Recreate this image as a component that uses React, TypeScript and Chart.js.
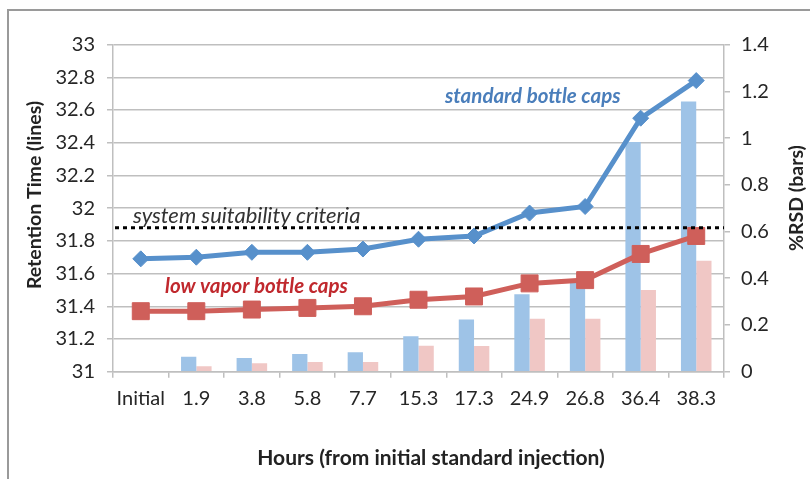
import React, { useEffect, useRef } from "react";
import { Chart, registerables } from "chart.js";

Chart.register(...registerables);

// ---- data ----
const categories = ["Initial", "1.9", "3.8", "5.8", "7.7", "15.3", "17.3", "24.9", "26.8", "36.4", "38.3"];
const standardRetention = [31.69, 31.7, 31.73, 31.73, 31.75, 31.81, 31.83, 31.97, 32.01, 32.55, 32.78];
const lowVaporRetention = [31.37, 31.37, 31.38, 31.39, 31.4, 31.44, 31.46, 31.54, 31.56, 31.72, 31.83];
const standardRsd = [null, 0.064, 0.059, 0.076, 0.083, 0.152, 0.223, 0.332, 0.39, 0.983, 1.156];
const lowVaporRsd = [null, 0.023, 0.036, 0.042, 0.042, 0.111, 0.11, 0.227, 0.227, 0.35, 0.475];
const suitabilityCriteria = 31.88;
const leftTicks = [31, 31.2, 31.4, 31.6, 31.8, 32, 32.2, 32.4, 32.6, 32.8, 33];
const leftTickLabels = ["31", "31.2", "31.4", "31.6", "31.8", "32", "32.2", "32.4", "32.6", "32.8", "33"];
const rightTicks = [0, 0.2, 0.4, 0.6, 0.8, 1, 1.2, 1.4];
const rightTickLabels = ["0", "0.2", "0.4", "0.6", "0.8", "1", "1.2", "1.4"];
const labelStandard = "standard bottle caps";
const labelLowVapor = "low vapor bottle caps";
const labelCriteria = "system suitability criteria";
const titleLeft = "Retention Time (lines)";
const titleRight = "%RSD (bars)";
const titleBottom = "Hours (from initial standard injection)";

const FONT = "Lato, 'Open Sans', sans-serif";
const GRID = "#BFBFBF";

const overlayPlugin = {
  id: "overlay",
  beforeDraw(chart: any) {
    const ctx = chart.ctx;
    ctx.save();
    ctx.strokeStyle = "#9A9A9A";
    ctx.lineWidth = 2;
    ctx.beginPath();
    ctx.moveTo(8, 2000);
    ctx.lineTo(8, 10);
    ctx.lineTo(2000, 10);
    ctx.stroke();
    ctx.restore();
  },
  afterDatasetsDraw(chart: any) {
    const { ctx, chartArea, scales } = chart;
    const yc = scales.y.getPixelForValue(suitabilityCriteria);
    ctx.save();
    ctx.setLineDash([4, 4]);
    ctx.lineWidth = 3;
    ctx.strokeStyle = "#000";
    ctx.beginPath();
    ctx.moveTo(chartArea.left + 2, yc);
    ctx.lineTo(chartArea.right, yc);
    ctx.stroke();
    ctx.setLineDash([]);

    ctx.textBaseline = "middle";
    ctx.textAlign = "left";
    ctx.fillStyle = "#333";
    ctx.font = `italic 22px ${FONT}`;
    ctx.fillText(labelCriteria, 133, 216);

    ctx.fillStyle = "#4A7EBB";
    ctx.font = `italic bold 20.5px ${FONT}`;
    ctx.fillText(labelStandard, 445, 96);

    ctx.fillStyle = "#C0282D";
    ctx.font = `italic bold 20.5px ${FONT}`;
    ctx.fillText(labelLowVapor, 165, 286);

    // axis titles
    ctx.fillStyle = "#222";
    ctx.font = `bold 21px ${FONT}`;
    ctx.textAlign = "center";
    ctx.fillText(titleBottom, 431, 458);

    ctx.font = `bold 19.5px ${FONT}`;
    ctx.save();
    ctx.translate(35, 195);
    ctx.rotate(-Math.PI / 2);
    ctx.fillText(titleLeft, 0, 0);
    ctx.restore();

    ctx.save();
    ctx.translate(797, 198);
    ctx.rotate(-Math.PI / 2);
    ctx.fillText(titleRight, 0, 0);
    ctx.restore();

    ctx.restore();
  },
};

export default function App() {
  const canvasRef = useRef<HTMLCanvasElement | null>(null);

  useEffect(() => {
    document.body.style.margin = "0";
    const canvas = canvasRef.current;
    if (!canvas) return;
    const chart = new Chart(canvas, {
      type: "bar",
      data: {
        labels: categories,
        datasets: [
          {
            type: "line",
            label: labelStandard,
            data: standardRetention,
            yAxisID: "y",
            borderColor: "#5790CB",
            backgroundColor: "#5790CB",
            borderWidth: 5,
            pointStyle: "rectRot",
            pointRadius: 8,
            pointBorderWidth: 1,
            pointBackgroundColor: "#5790CB",
            pointBorderColor: "#5790CB",
            tension: 0,
            order: 0,
          } as any,
          {
            type: "line",
            label: labelLowVapor,
            data: lowVaporRetention,
            yAxisID: "y",
            borderColor: "#CF5F5A",
            backgroundColor: "#CF5F5A",
            borderWidth: 5,
            pointStyle: "rect",
            pointRadius: 12,
            pointBorderWidth: 1,
            pointBackgroundColor: "#CF5F5A",
            pointBorderColor: "#CF5F5A",
            tension: 0,
            order: 0,
          } as any,
          {
            type: "bar",
            label: "standard %RSD",
            data: standardRsd,
            yAxisID: "y1",
            backgroundColor: "#9EC3E7",
            borderWidth: 0,
            categoryPercentage: 0.55,
            barPercentage: 1.0,
            order: 1,
          } as any,
          {
            type: "bar",
            label: "low vapor %RSD",
            data: lowVaporRsd,
            yAxisID: "y1",
            backgroundColor: "#F0C7C5",
            borderWidth: 0,
            categoryPercentage: 0.55,
            barPercentage: 1.0,
            order: 1,
          } as any,
        ],
      },
      options: {
        responsive: false,
        animation: false,
        layout: { padding: { top: 44.6, left: 0, right: 0, bottom: 0 } },
        plugins: { legend: { display: false }, tooltip: { enabled: false } },
        scales: {
          x: {
            type: "category",
            offset: true,
            grid: { offset: true, drawOnChartArea: false, color: GRID, lineWidth: 1.5, tickLength: 6 },
            border: { color: GRID, width: 1.5 },
            ticks: {
              maxRotation: 0,
              autoSkip: false,
              padding: 9,
              color: "#262626",
              font: { family: FONT, size: 20 },
            },
            afterFit: (scale: any) => {
              scale.height = 479 - 371.7;
            },
          },
          y: {
            position: "left",
            min: 31,
            max: 33,
            afterBuildTicks: (scale: any) => {
              scale.ticks = leftTicks.map((v) => ({ value: v }));
            },
            ticks: {
              padding: 12,
              color: "#262626",
              font: { family: FONT, size: 20 },
              callback: (_v: any, i: number) => leftTickLabels[i],
            },
            grid: { color: GRID, lineWidth: 1.5, tickLength: 6 },
            border: { color: GRID, width: 1.5 },
            afterFit: (scale: any) => {
              scale.width = 113;
            },
          },
          y1: {
            position: "right",
            min: 0,
            max: 1.4,
            afterBuildTicks: (scale: any) => {
              scale.ticks = rightTicks.map((v) => ({ value: v }));
            },
            ticks: {
              padding: 11,
              color: "#262626",
              font: { family: FONT, size: 20 },
              callback: (_v: any, i: number) => rightTickLabels[i],
            },
            grid: { drawOnChartArea: false, color: GRID, lineWidth: 1.5, tickLength: 6 },
            border: { color: GRID, width: 1.5 },
            afterFit: (scale: any) => {
              scale.width = 810 - 724;
            },
          },
        },
      },
      plugins: [overlayPlugin],
    });
    return () => chart.destroy();
  }, []);

  return (
    <div style={{ width: 810, height: 479 }}>
      <canvas ref={canvasRef} width={810} height={479} style={{ display: "block" }} />
    </div>
  );
}
